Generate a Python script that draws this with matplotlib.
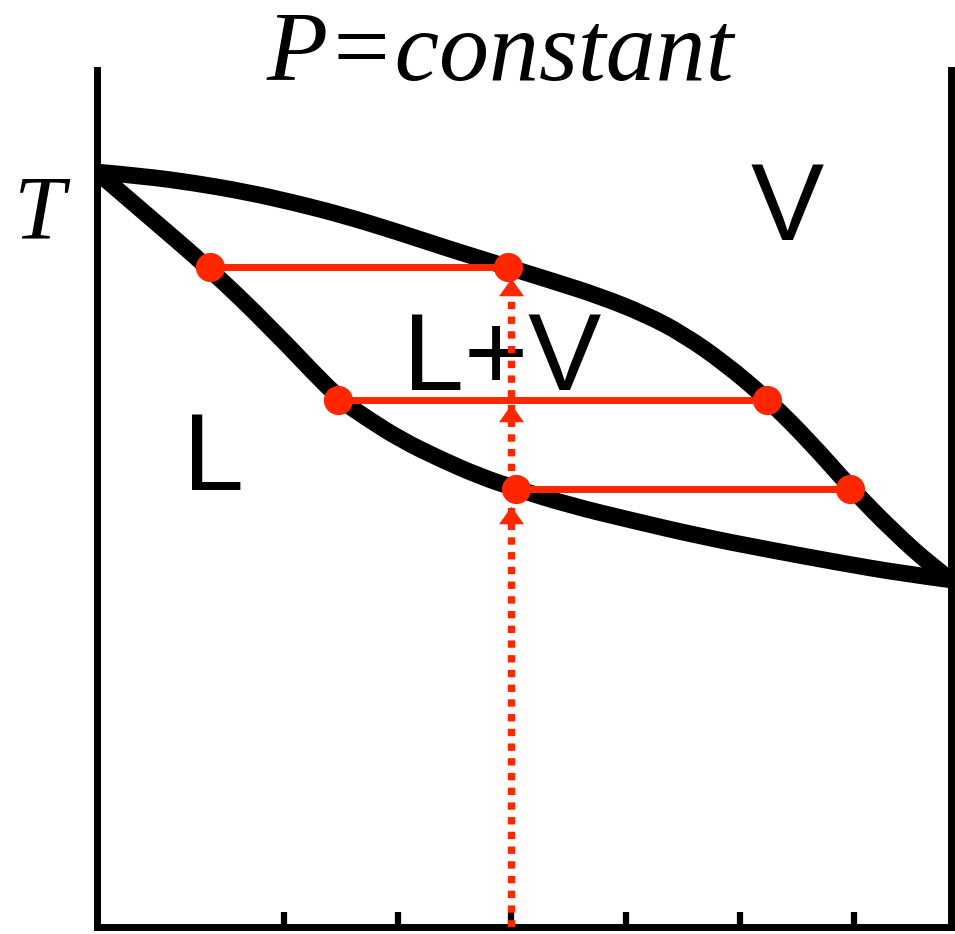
import matplotlib
matplotlib.use('Agg')
import matplotlib.pyplot as plt
from matplotlib.path import Path
from matplotlib.patches import PathPatch

# composition (0..1) and temperature (arbitrary units)
vap_x = [0.000, 0.056, 0.115, 0.173, 0.232, 0.290, 0.349, 0.413, 0.481, 0.536,
         0.589, 0.642, 0.686, 0.735, 0.786, 0.835, 0.882, 0.932, 0.979, 1.000]
vap_T = [0.881, 0.876, 0.868, 0.858, 0.845, 0.830, 0.812, 0.791, 0.770, 0.753,
         0.736, 0.715, 0.692, 0.658, 0.615, 0.566, 0.513, 0.462, 0.420, 0.405]
liq_x = [0.000, 0.062, 0.132, 0.203, 0.282, 0.314, 0.355, 0.402, 0.448, 0.492,
         0.554, 0.624, 0.706, 0.788, 0.870, 0.940, 1.000]
liq_T = [0.881, 0.828, 0.768, 0.700, 0.617, 0.595, 0.569, 0.546, 0.526, 0.511,
         0.492, 0.475, 0.456, 0.440, 0.425, 0.413, 0.405]

# tie lines: temperature, liquid end, vapour end
tie_T = [0.770, 0.615, 0.511]
tie_xl = [0.132, 0.282, 0.491]
tie_xv = [0.481, 0.785, 0.882]

# heating path of the feed and the arrow heads on it
feed_x = 0.485
feed_top = 0.757
arrow_T = [0.747, 0.600, 0.481]

tick_x = [0.219, 0.352, 0.485, 0.619, 0.753, 0.886]

red = '#ff2600'


def smooth_curve(ax, xs, ys, **kw):
    # quadratic b-spline through the read points, drawn as one path
    pts = list(zip(xs, ys))
    verts = [pts[0]]
    for i in range(1, len(pts) - 2):
        mid = ((pts[i][0] + pts[i + 1][0]) / 2, (pts[i][1] + pts[i + 1][1]) / 2)
        verts += [pts[i], mid]
    verts += [pts[-2], pts[-1]]
    codes = [Path.MOVETO] + [Path.CURVE3] * (len(verts) - 1)
    ax.add_patch(PathPatch(Path(verts, codes), fill=False, **kw))


fig = plt.figure(figsize=(9.55, 9.34), dpi=100)
ax = fig.add_axes([97 / 955, 7 / 934, 854 / 955, 857 / 934])
ax.set_xlim(0, 1)
ax.set_ylim(0, 1)

# phase boundaries
smooth_curve(ax, vap_x, vap_T, edgecolor='black', lw=12, joinstyle='round', zorder=2)
smooth_curve(ax, liq_x, liq_T, edgecolor='black', lw=12, joinstyle='round', zorder=2)

# tie lines with end points
for T, xl, xv in zip(tie_T, tie_xl, tie_xv):
    ax.plot([xl, xv], [T, T], color=red, lw=5, solid_capstyle='butt', zorder=3)
    ax.plot([xl, xv], [T, T], 'o', color=red, ms=21, mew=0, zorder=5)

# dotted feed line going up, with wide arrow heads
ax.plot([feed_x, feed_x], [0, feed_top], color=red, lw=5.3,
        dashes=(1.0, 1.0), dash_capstyle='butt', zorder=4)
head = [(-1, -0.7), (1, -0.7), (0, 0.7), (-1, -0.7)]
ax.plot([feed_x] * len(arrow_T), arrow_T, ls='none', marker=head,
        color=red, ms=18, mew=0, zorder=4)

# region labels
ax.text(0.808, 0.802, 'V', fontsize=79, family='Liberation Sans',
        ha='center', va='baseline')
ax.text(0.474, 0.627, 'L+V', fontsize=79, family='Liberation Sans',
        ha='center', va='baseline')
ax.text(0.136, 0.510, 'L', fontsize=79, family='Liberation Sans',
        ha='center', va='baseline')
ax.text(-0.067, 0.804, 'T', fontsize=66, family='Liberation Serif',
        style='italic', ha='center', va='baseline', clip_on=False)
ax.text(0.472, 0.988, 'P=constant', fontsize=72, family='Liberation Serif',
        style='italic', ha='center', va='baseline', clip_on=False)

# axes frame: no top spine, ticks pointing in on the bottom only
ax.spines['top'].set_visible(False)
for s in ['left', 'right', 'bottom']:
    ax.spines[s].set_linewidth(5)
ax.set_xticks(tick_x)
ax.set_xticklabels([])
ax.set_yticks([])
ax.tick_params(axis='x', direction='in', length=11, width=4.5)

fig.savefig('out.png', dpi=100)
